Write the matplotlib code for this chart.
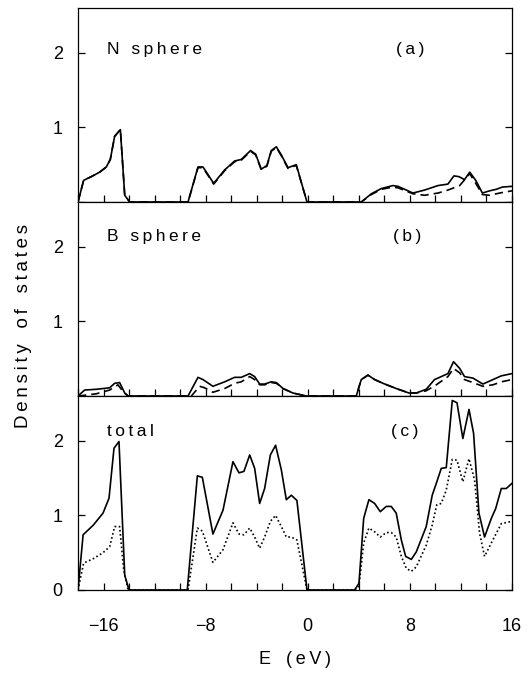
import numpy as np
import matplotlib.pyplot as plt
from matplotlib.ticker import MultipleLocator

plt.rcParams['font.family'] = ['Liberation Sans', 'DejaVu Sans']

# (a) N sphere
n_solid_x = [-18, -17.56, -16.96, -16.3, -15.78, -15.47, -15.13, -14.68, -14.34, -13.95,
             -9.38, -8.6, -8.21, -7.37, -6.51, -5.73, -5.21, -4.48, -4.08, -3.64, -3.2,
             -2.86, -2.46, -2.07, -1.55, -0.9, -0.06,
             4.19, 4.98, 5.76, 6.67, 7.07, 8.24, 9.15, 10.2, 10.98, 11.45, 11.84, 12.28,
             12.69, 13.16, 13.68, 14.25, 14.77, 15.24, 16]
n_solid_y = [0, 0.29, 0.34, 0.40, 0.47, 0.57, 0.88, 0.97, 0.09, 0,
             0, 0.47, 0.47, 0.25, 0.43, 0.55, 0.57, 0.69, 0.64, 0.44, 0.49,
             0.69, 0.74, 0.63, 0.46, 0.50, 0,
             0, 0.11, 0.18, 0.22, 0.21, 0.12, 0.16, 0.22, 0.24, 0.35, 0.34, 0.30,
             0.40, 0.29, 0.12, 0.15, 0.17, 0.20, 0.21]
n_dash_x = [-18, -17.56, -16.96, -16.3, -15.78, -15.47, -15.13, -14.68, -14.34, -13.95,
            -9.38, -8.6, -8.21, -7.37, -6.51, -5.73, -5.21, -4.48, -4.08, -3.64, -3.2,
            -2.86, -2.46, -2.07, -1.55, -0.9, -0.06,
            4.19, 4.98, 5.76, 6.67, 7.07, 8.24, 9.15, 10.2, 10.98, 11.9, 12.69, 13.16,
            13.68, 14.25, 15.03, 16]
n_dash_y = [0, 0.29, 0.34, 0.40, 0.47, 0.57, 0.88, 0.97, 0.09, 0,
            0, 0.46, 0.46, 0.24, 0.42, 0.54, 0.56, 0.68, 0.63, 0.43, 0.48,
            0.68, 0.73, 0.62, 0.45, 0.49, 0,
            0, 0.10, 0.17, 0.20, 0.19, 0.11, 0.09, 0.12, 0.16, 0.22, 0.38, 0.25,
            0.10, 0.09, 0.12, 0.15]

# (b) B sphere
b_solid_x = [-18, -17.48, -16.56, -15.52, -15.13, -14.74, -14.34, -14.08,
             -9.38, -8.6, -8.21, -7.43, -6.51, -5.73, -5.21, -4.55, -4.16, -3.77, -3.38,
             -2.86, -2.46, -1.94, -1.16, -0.12,
             3.8, 4.19, 4.72, 5.24, 5.89, 6.93, 7.93, 8.5, 9.28, 9.93, 10.98, 11.42,
             11.9, 12.28, 12.94, 13.72, 14.51, 15.16, 16]
b_solid_y = [0, 0.08, 0.09, 0.11, 0.17, 0.18, 0.04, 0,
             0, 0.25, 0.22, 0.13, 0.19, 0.25, 0.25, 0.30, 0.26, 0.16, 0.16,
             0.19, 0.18, 0.10, 0.04, 0,
             0, 0.22, 0.28, 0.22, 0.17, 0.10, 0.04, 0.04, 0.09, 0.22, 0.30, 0.46,
             0.37, 0.26, 0.24, 0.16, 0.22, 0.27, 0.30]
b_dash_x = [-18, -17.48, -16.56, -15.52, -14.87, -14.47, -14.08,
            -9.12, -8.47, -8.08, -7.43, -6.51, -5.73, -5.21, -4.55, -4.16, -3.77, -3.38,
            -2.86, -2.46, -1.94, -1.16, -0.12,
            3.8, 4.19, 4.72, 5.24, 5.89, 6.93, 7.93, 8.5, 9.28, 10.07, 10.98, 11.42,
            11.9, 12.28, 12.94, 13.72, 14.51, 15.16, 16]
b_dash_y = [0, 0.01, 0.03, 0.08, 0.15, 0.06, 0,
            0, 0.13, 0.11, 0.05, 0.10, 0.17, 0.19, 0.26, 0.22, 0.15, 0.15,
            0.18, 0.17, 0.10, 0.04, 0,
            0, 0.22, 0.28, 0.22, 0.17, 0.10, 0.04, 0.04, 0.07, 0.15, 0.26, 0.37,
            0.31, 0.22, 0.18, 0.13, 0.15, 0.19, 0.22]

# (c) total
t_solid_x = [-18, -17.6, -16.8, -16.04, -15.57, -15.18, -14.79, -14.34, -14.0,
             -9.44, -8.65, -8.26, -7.43, -6.64, -5.86, -5.39, -5.0, -4.55, -4.16, -3.77,
             -3.38, -2.93, -2.52, -2.07, -1.68, -1.29, -0.85, -0.06,
             3.67, 4.01, 4.38, 4.79, 5.24, 5.68, 6.15, 6.54, 6.93, 7.33, 7.67, 8.11, 8.5,
             9.28, 9.75, 10.07, 10.46, 10.85, 11.32, 11.69, 12.15, 12.63, 12.99, 13.41,
             13.85, 14.38, 14.72, 15.16, 15.55, 16]
t_solid_y = [0, 0.74, 0.87, 1.03, 1.23, 1.90, 1.99, 0.20, 0,
             0, 1.53, 1.51, 0.75, 1.07, 1.72, 1.57, 1.59, 1.81, 1.63, 1.16,
             1.36, 1.81, 1.94, 1.61, 1.21, 1.27, 1.20, 0,
             0, 0.09, 0.96, 1.21, 1.16, 1.05, 1.12, 1.12, 1.03, 0.67, 0.45, 0.41, 0.51,
             0.85, 1.27, 1.43, 1.63, 1.64, 2.54, 2.51, 2.03, 2.42, 2.10, 1.03,
             0.71, 0.96, 1.09, 1.36, 1.36, 1.43]
t_dot_x = [-18, -17.56, -16.8, -16.04, -15.52, -15.13, -14.74, -14.42, -14.08,
           -9.38, -8.65, -8.26, -7.43, -6.64, -5.86, -5.39, -5.0, -4.55, -4.16, -3.77,
           -3.38, -2.93, -2.52, -2.07, -1.68, -1.29, -0.85, -0.06,
           3.67, 4.01, 4.38, 4.79, 5.24, 5.68, 6.15, 6.54, 6.93, 7.33, 7.72, 8.11, 8.5,
           9.28, 9.75, 10.1, 10.46, 10.85, 11.32, 11.69, 12.15, 12.63, 13.07, 13.46,
           13.85, 14.38, 14.77, 15.16, 16]
t_dot_y = [0, 0.36, 0.42, 0.50, 0.58, 0.85, 0.85, 0.27, 0,
           0, 0.83, 0.79, 0.37, 0.54, 0.90, 0.75, 0.74, 0.83, 0.71, 0.56,
           0.71, 0.92, 1.00, 0.85, 0.71, 0.71, 0.67, 0,
           0, 0.05, 0.63, 0.83, 0.78, 0.71, 0.77, 0.77, 0.71, 0.45, 0.29, 0.25, 0.31,
           0.60, 0.87, 1.14, 1.16, 1.34, 1.75, 1.74, 1.45, 1.76, 1.47, 0.76,
           0.45, 0.63, 0.76, 0.89, 0.92]

panel_names = ["N sphere", "B sphere", "total"]
panel_tags = ["(a)", "(b)", "(c)"]
dash = (0, (5, 3))
dot = (0, (1, 1.5))
panel_curves = [
    [(n_solid_x, n_solid_y, '-'), (n_dash_x, n_dash_y, dash)],
    [(b_solid_x, b_solid_y, '-'), (b_dash_x, b_dash_y, dash)],
    [(t_solid_x, t_solid_y, '-'), (t_dot_x, t_dot_y, dot)],
]
# label baselines / tag centres
name_y = [1.98, 2.08, 2.07]
tag_x = [8.0, 7.8, 7.6]


def spaced(s):
    # the original typesetting has wide letter spacing
    return '\u2009'.join(s)


fig = plt.figure(figsize=(5.28, 6.75), dpi=100)
left, right = 78 / 528, 512 / 528
top, bottom = 1 - 8 / 675, 1 - 590 / 675
h = (top - bottom) / 3

for i in range(3):
    ax = fig.add_axes([left, top - (i + 1) * h, right - left, h])
    for xs, ys, ls in panel_curves[i]:
        ax.plot(xs, ys, color='black', lw=1.2, linestyle=ls)
    ax.set_xlim(-18, 16)
    ax.set_ylim(0, 2.6)
    ax.xaxis.set_major_locator(MultipleLocator(8))
    ax.xaxis.set_minor_locator(MultipleLocator(2))
    ax.set_yticks([0, 1, 2])
    ax.tick_params(axis='both', which='both', direction='in', length=5, width=0.9,
                   labelsize=13)
    ax.tick_params(axis='y', left=True, right=True, pad=11)
    ax.tick_params(axis='x', which='both', top=False, bottom=True, pad=20)
    if i < 2:
        ax.set_yticklabels(['', '1', '2'])
        ax.set_xticklabels([])
    else:
        ax.set_yticklabels(['0', '1', '2'])
        ax.set_xlabel(spaced('E') + '   ' + spaced('(eV)'), fontsize=13, labelpad=12)
    for sp in ax.spines.values():
        sp.set_linewidth(0.9)
    ax.text(-15.75, name_y[i], spaced(panel_names[i]), fontsize=12.5,
            va='baseline', ha='left')
    ax.text(tag_x[i], name_y[i], spaced(panel_tags[i]), fontsize=12.5,
            va='baseline', ha='center')

fig.text(24 / 528, 1 - 326 / 675, spaced('Density') + '   ' + spaced('of') + '   '
         + spaced('states'), rotation=90, fontsize=13.5, va='center', ha='center')

fig.savefig('out.png', dpi=100)
